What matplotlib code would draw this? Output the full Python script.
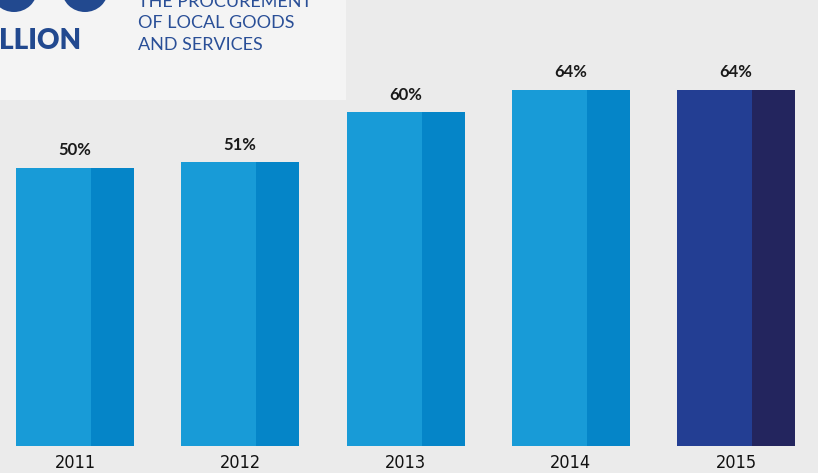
import matplotlib
matplotlib.use("Agg")
import matplotlib.pyplot as plt
from matplotlib.patches import Rectangle, Ellipse

years = ["2011", "2012", "2013", "2014", "2015"]
shares = [50, 51, 60, 64, 64]
labels = ["50%", "51%", "60%", "64%", "64%"]
face_light = ["#189bd7", "#189bd7", "#189bd7", "#189bd7", "#233e93"]
face_dark = ["#0585c8", "#0585c8", "#0585c8", "#0585c8", "#23255e"]

caption = ["THE PROCUREMENT", "OF LOCAL GOODS", "AND SERVICES"]

W, H = 818, 473
fig = plt.figure(figsize=(W / 100, H / 100), dpi=100)
fig.patch.set_facecolor("#ebebeb")

# decoration layer in pixel coordinates
deco = fig.add_axes([0, 0, 1, 1])
deco.set_xlim(0, W)
deco.set_ylim(H, 0)
deco.axis("off")
deco.add_patch(Rectangle((0, 0), 346, 100, facecolor="#f4f4f4", edgecolor="none"))
blue = "#22498f"
deco.add_patch(Ellipse((14, -10), 46, 44, facecolor=blue, edgecolor="none"))
deco.add_patch(Ellipse((85, -10), 46, 44, facecolor=blue, edgecolor="none"))
deco.text(-1, 49, "LLION", fontsize=20, fontweight="heavy", family=["Lato", "DejaVu Sans"],
          color=blue, ha="left", va="baseline")
for i, line in enumerate(caption):
    deco.text(138, 7 + 21.5 * i, line, fontsize=13, family=["Lato", "DejaVu Sans"],
              color="#2a4f97", ha="left", va="baseline")

# bar chart
ax = fig.add_axes([0, 0, 1, 1], facecolor="none")
step = 165.25
ax.set_xlim(-75 / step, (W - 75) / step)
ax.set_ylim(-(H - 446) / 5.56, 446 / 5.56)
ax.axis("off")

wl = 75 / step
wd = 43 / step
left = -59 / step
xs = list(range(len(years)))
ax.bar([x + left for x in xs], shares, width=wl, align="edge", color=face_light, linewidth=0)
ax.bar([x + left + wl for x in xs], shares, width=wd, align="edge", color=face_dark, linewidth=0)

for x, v, lab in zip(xs, shares, labels):
    ax.text(x, v + 3.2, lab, ha="center", va="center", fontsize=12, fontweight="bold",
            family=["Lato", "DejaVu Sans"], color="#1a1a1a")

for x, yr in zip(xs, years):
    ax.text(x, -(463 - 446) / 5.56, yr, ha="center", va="center", fontsize=13,
            family=["DejaVu Sans"], fontstretch="condensed", color="#111111")

fig.savefig("out.png", dpi=100, facecolor=fig.get_facecolor())
